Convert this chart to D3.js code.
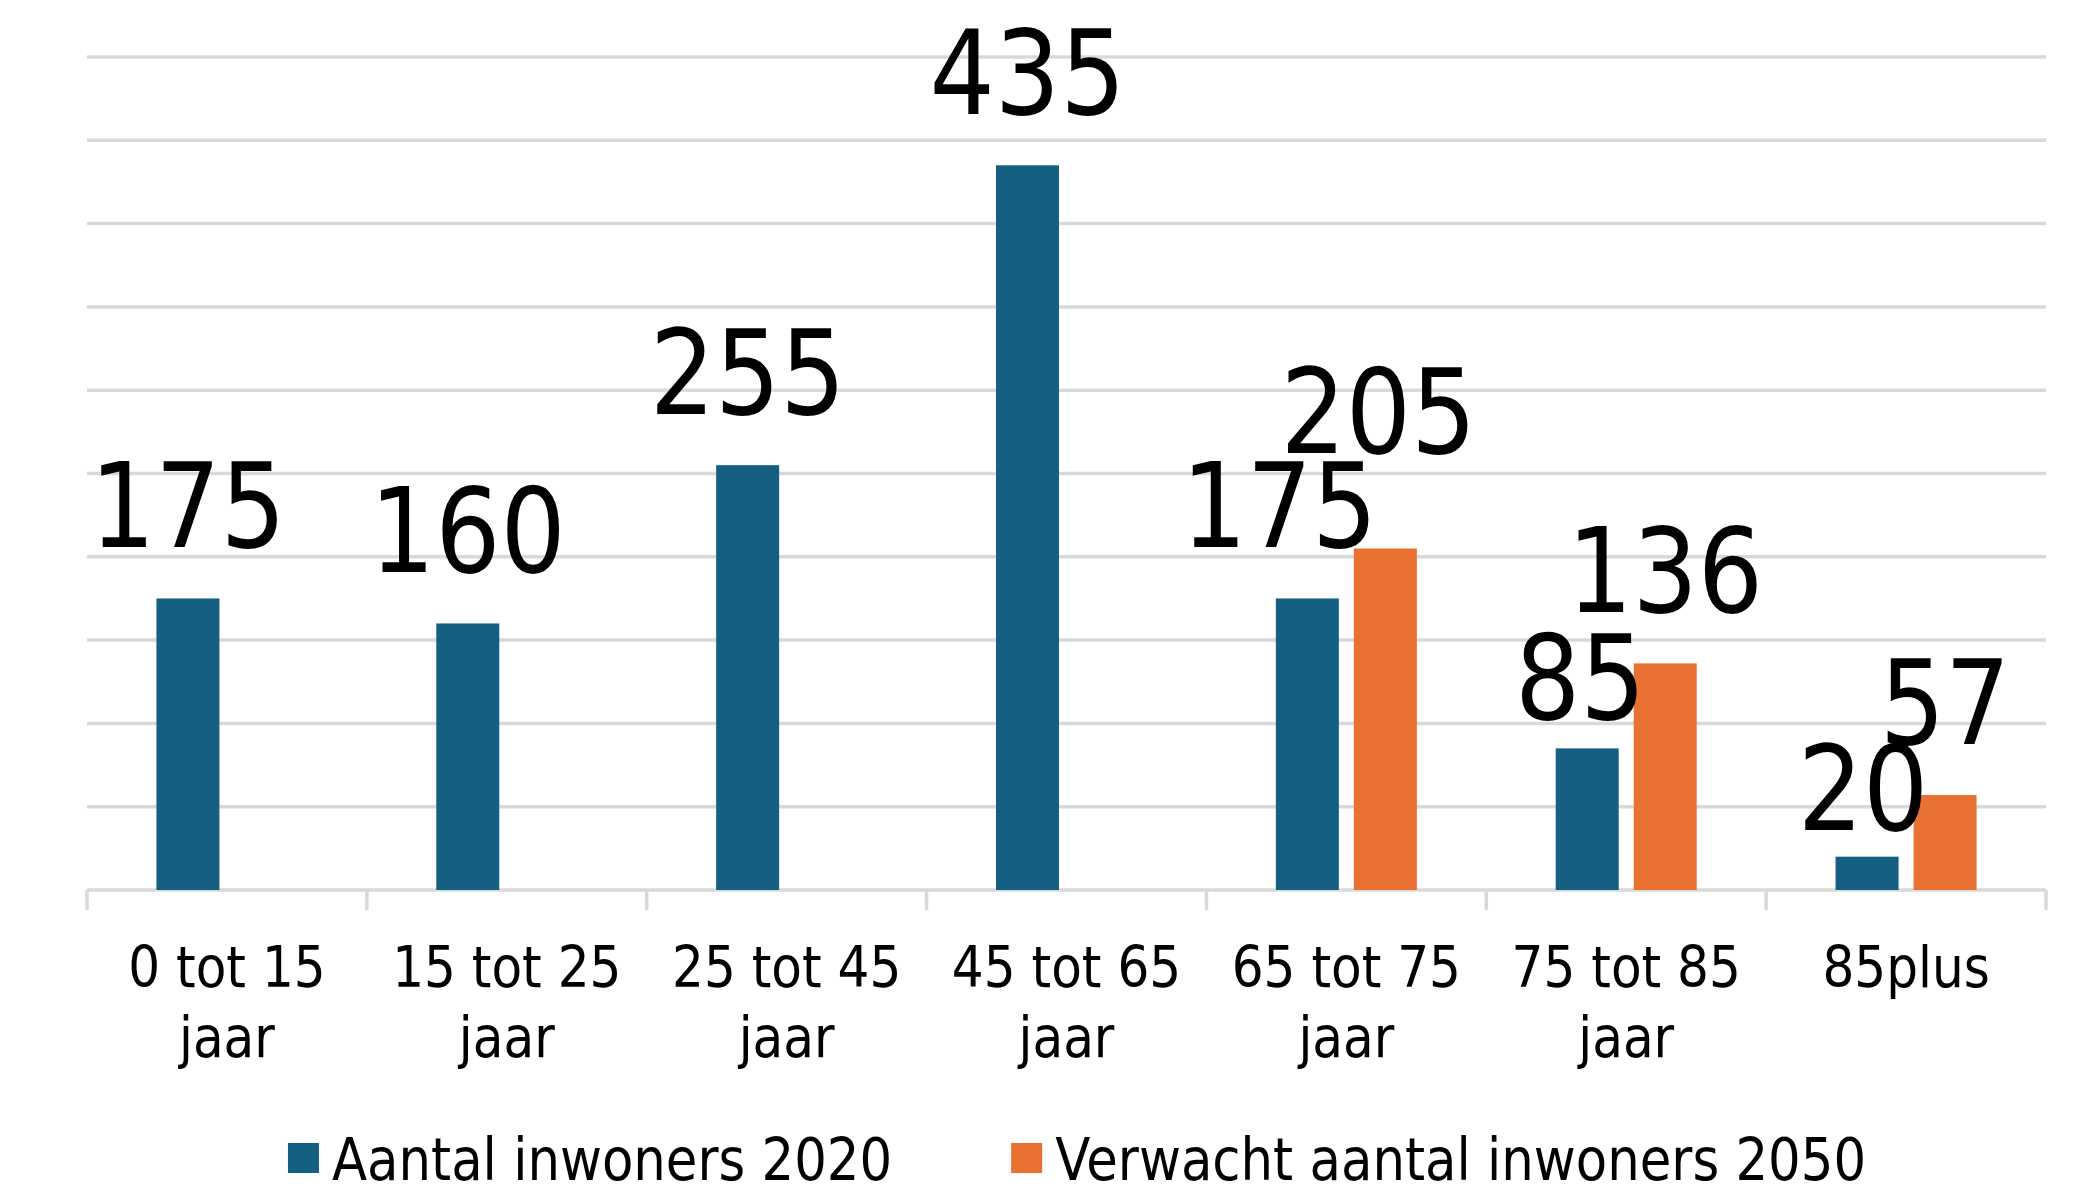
<!DOCTYPE html>
<html>
<head>
<meta charset="utf-8">
<script src="https://cdn.jsdelivr.net/npm/d3@7"></script>
<style>
  body { margin: 0; background: #fff; }
  text { font-family: "DejaVu Sans", Verdana, sans-serif; fill: #000; }
</style>
</head>
<body>
<div id="target"></div>
<script>
var width = 2075,
    height = 1203;

// data
var categories = ['0 tot 15 jaar', '15 tot 25 jaar', '25 tot 45 jaar', '45 tot 65 jaar',
                  '65 tot 75 jaar', '75 tot 85 jaar', '85plus'];
var categoryLines = [['0 tot 15', 'jaar'], ['15 tot 25', 'jaar'], ['25 tot 45', 'jaar'],
                     ['45 tot 65', 'jaar'], ['65 tot 75', 'jaar'], ['75 tot 85', 'jaar'], ['85plus']];
var seriesNames = ['Aantal inwoners 2020', 'Verwacht aantal inwoners 2050'];
var values2020 = [175, 160, 255, 435, 175, 85, 20];
var values2050 = [null, null, null, null, 205, 136, 57];
var yTicks = [0, 50, 100, 150, 200, 250, 300, 350, 400, 450, 500];

var colors = ['#156082', '#E97132'];
var squeeze = 0.87; // narrow the font a bit (Tahoma-like)

// labels that were moved by hand in the original
var labelNudge = {
    '65 tot 75 jaar|0': [-28, 0],
    '65 tot 75 jaar|1': [-7, -44],
    '75 tot 85 jaar|0': [-7, 22],
    '85plus|0': [-4, 24]
};

var svg = d3.select('#target').append('svg')
    .attr('width', width)
    .attr('height', height);

var x0 = d3.scaleBand().domain(categories).range([87, 2046]);
var groupW = 141;
var x1 = d3.scaleBand().domain([0, 1])
    .range([(x0.bandwidth() - groupW) / 2, (x0.bandwidth() + groupW) / 2])
    .paddingInner(15 / 78);
var y = d3.scaleLinear().domain([0, 500]).range([890, 57]);

// gridlines
svg.append('g').selectAll('line')
    .data(yTicks)
    .enter().append('line')
    .attr('x1', x0.range()[0])
    .attr('x2', x0.range()[1])
    .attr('y1', function (d) { return y(d); })
    .attr('y2', function (d) { return y(d); })
    .attr('stroke', '#d9d9d9')
    .attr('stroke-width', 3.5);

// category ticks on the baseline
var bounds = categories.map(function (c) { return x0(c); }).concat([x0.range()[1]]);
svg.append('g').selectAll('line')
    .data(bounds)
    .enter().append('line')
    .attr('x1', function (d) { return d; })
    .attr('x2', function (d) { return d; })
    .attr('y1', y(0))
    .attr('y2', y(0) + 20)
    .attr('stroke', '#d9d9d9')
    .attr('stroke-width', 3.5);

var rows = [];
categories.forEach(function (c, i) {
    [values2020[i], values2050[i]].forEach(function (v, s) {
        if (v != null) rows.push({cat: c, s: s, value: v});
    });
});

// bars
svg.append('g').selectAll('rect')
    .data(rows)
    .enter().append('rect')
    .attr('x', function (d) { return x0(d.cat) + x1(d.s); })
    .attr('y', function (d) { return y(d.value); })
    .attr('width', x1.bandwidth())
    .attr('height', function (d) { return y(0) - y(d.value); })
    .attr('fill', function (d) { return colors[d.s]; });

// value labels
svg.append('g').selectAll('text')
    .data(rows)
    .enter().append('text')
    .attr('transform', function (d) {
        var n = labelNudge[d.cat + '|' + d.s] || [0, 0];
        var cx = x0(d.cat) + x1(d.s) + x1.bandwidth() / 2 + n[0];
        var cy = y(d.value) - 51 + n[1];
        return 'translate(' + cx + ',' + cy + ') scale(' + squeeze + ',1)';
    })
    .attr('text-anchor', 'middle')
    .style('font-size', '118px')
    .text(function (d) { return d.value; });

// category labels
var catG = svg.append('g').selectAll('g')
    .data(categories)
    .enter().append('g')
    .attr('transform', function (d) {
        return 'translate(' + (x0(d) + x0.bandwidth() / 2) + ',987) scale(' + squeeze + ',1)';
    });
catG.selectAll('text')
    .data(function (d, i) { return categoryLines[i]; })
    .enter().append('text')
    .attr('text-anchor', 'middle')
    .attr('y', function (d, i) { return i * 70; })
    .style('font-size', '57.6px')
    .text(function (d) { return d; });

// legend
var legend = svg.append('g');
var items = legend.selectAll('g')
    .data(seriesNames)
    .enter().append('g');
items.append('rect')
    .attr('width', 31)
    .attr('height', 30)
    .attr('y', 1143)
    .attr('fill', function (d, i) { return colors[i]; });
items.append('text')
    .attr('transform', 'translate(44,1180) scale(' + squeeze + ',1)')
    .style('font-size', '59px')
    .text(function (d) { return d; });

var offs = [], pos = 0;
items.each(function () {
    offs.push(pos);
    var tw = d3.select(this).select('text').node().getComputedTextLength() * squeeze;
    pos += 44 + tw + 119;
});
var legendW = pos - 119;
var legendX = 1077 - legendW / 2;
items.attr('transform', function (d, i) { return 'translate(' + (legendX + offs[i]) + ',0)'; });
</script>
</body>
</html>
